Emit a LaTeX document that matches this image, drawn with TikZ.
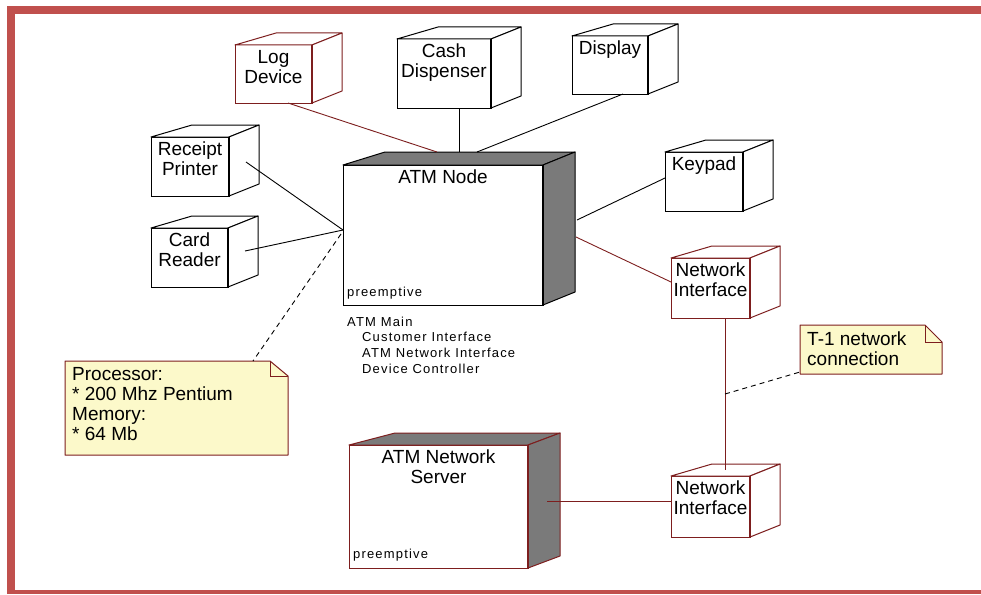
\documentclass[tikz,border=0pt]{standalone}
\usepackage{fontspec}
\setmainfont{Liberation Sans}
\newfontfamily\smallfam[LetterSpace=9]{Liberation Sans}
\usetikzlibrary{calc}
\definecolor{framered}{RGB}{192,80,77}
\definecolor{dred}{RGB}{125,30,30}
\definecolor{facegray}{RGB}{122,122,122}
\definecolor{notefill}{RGB}{252,249,202}
\newcommand\biglab{\fontsize{19}{20}\selectfont}
\newcommand\smalllab{\smallfam\fontsize{13}{16}\selectfont}
\def\dL{41}\def\dR{30}\def\dY{12}
% name, x, y, w, h, line colour, face fill, label
\newcommand\devbox[8]{%
  \node[frontface, draw=#6, minimum width=#4pt, minimum height=#5pt, anchor=north west] (#1) at (#2,#3) {};
  \filldraw[draw=#6, fill=#7, line width=1pt, line join=round]
    (#1.north west) -- ++(\dL,-\dY) -- ([shift={(\dR,-\dY)}]#1.north east) -- (#1.north east) -- cycle;
  \filldraw[draw=#6, fill=#7, line width=1pt, line join=round]
    (#1.north east) -- ([shift={(\dR,-\dY)}]#1.north east) -- ([shift={(\dR,-\dY)}]#1.south east) -- (#1.south east) -- cycle;
  \draw[draw=#6, line width=2pt] (#1.north east) -- (#1.south east);
  \node[boxlabel, anchor=north] (#1-lab) at ([yshift=-5pt]#1.north) {#8};
}
\begin{document}
\begin{tikzpicture}[x=1pt,y=-1pt,
  frontface/.style={draw, fill=white, line width=1pt, inner sep=0pt, outer sep=0pt},
  boxlabel/.style={font=\biglab, align=center, inner sep=0pt},
  smalltext/.style={font=\smalllab, inner sep=0pt, anchor=base west},
  conn/.style={line width=0.9pt, draw=black},
  redconn/.style={line width=0.9pt, draw=dred},
  noteconn/.style={line width=0.9pt, draw=black, dash pattern=on 5pt off 4pt},
  noteshape/.style={draw=dred, fill=notefill, line width=1pt, line join=round},
  notearea/.style={inner sep=0pt, outer sep=0pt, anchor=north west},
  notetext/.style={font=\biglab, align=left, inner sep=0pt, anchor=north west}]
\useasboundingbox (0,0) rectangle (981,594);
\fill[white] (0,0) rectangle (981,594);
% frame
\fill[framered] (7,6) rectangle (981,14);
\fill[framered] (7,6) rectangle (15,594);
\fill[framered] (7,590) rectangle (981,594);

% devices
\devbox{ld}{235}{45}{77}{58}{dred}{white}{Log\\Device}
\devbox{cd}{397}{39}{94}{69}{black}{white}{Cash\\Dispenser}
\devbox{dp}{572}{36}{76}{58}{black}{white}{Display}
\devbox{rp}{151}{137}{78}{59}{black}{white}{Receipt\\Printer}
\devbox{cr}{151}{228}{77}{59}{black}{white}{Card\\Reader}
\devbox{kp}{665}{152}{78}{59}{black}{white}{Keypad}
\devbox{nia}{671}{258}{79}{60}{dred}{white}{Network\\Interface}
\devbox{nib}{671}{476}{79}{61}{dred}{white}{Network\\Interface}
\def\dL{42}\def\dR{32}\def\dY{13}
\devbox{atm}{343}{165}{200}{140}{black}{facegray}{ATM Node}
\def\dL{46}\def\dR{32}\def\dY{12}
\devbox{srv}{349}{445}{179}{123}{dred}{facegray}{ATM Network\\Server}

\node[smalltext] (atmpre) at (347,296) {preemptive};
\node[smalltext] (srvpre) at (353,558) {preemptive};
\node[smalltext] (m1) at (347,326) {ATM Main};
\node[smalltext] (m2) at (362,341) {Customer Interface};
\node[smalltext] (m3) at (362,357) {ATM Network Interface};
\node[smalltext] (m4) at (362,373) {Device Controller};

% notes
\node[notearea, minimum width=223pt, minimum height=94pt] (pn) at (65,361) {};
\draw[noteshape] (pn.north west) -- ([xshift=-18pt]pn.north east) -- ([yshift=-15pt]pn.north east) -- (pn.south east) -- (pn.south west) -- cycle;
\draw[draw=dred, line width=1pt] ([xshift=-18pt]pn.north east) -- ([xshift=-18pt,yshift=-15pt]pn.north east) -- ([yshift=-15pt]pn.north east);
\node[notetext] (pntext) at (72,367) {Processor:\\* 200 Mhz Pentium\\Memory:\\* 64 Mb};

\node[notearea, minimum width=142pt, minimum height=49pt] (tn) at (800,325) {};
\draw[noteshape] (tn.north west) -- ([xshift=-17pt]tn.north east) -- ([yshift=-17pt]tn.north east) -- (tn.south east) -- (tn.south west) -- cycle;
\draw[draw=dred, line width=1pt] ([xshift=-17pt]tn.north east) -- ([xshift=-17pt,yshift=-17pt]tn.north east) -- ([yshift=-17pt]tn.north east);
\node[notetext] (tntext) at (807,332) {T-1 network\\connection};

% connector end points
\coordinate (ldA) at (288,103);
\coordinate (atmT1) at (437,152);
\coordinate (cdA) at (459,108);
\coordinate (atmT2) at (459,152);
\coordinate (dpA) at (623,94);
\coordinate (atmT3) at (477,152);
\coordinate (rpA) at (246,162);
\coordinate (crA) at (245,251);
\coordinate (atmW) at (343,230);
\coordinate (atmWd) at (341,234);
\coordinate (pnA) at (253,361);
\coordinate (atmE1) at (577,220);
\coordinate (kpA) at (665,178);
\coordinate (atmE2) at (576,237);
\coordinate (niaA) at (671,282);
\coordinate (niaB) at (725,318);
\coordinate (nibA) at (725,470);
\coordinate (linkM) at (725,394);
\coordinate (tnA) at (800,372);
\coordinate (srvE) at (547,501);
\coordinate (nibW) at (671,501);

% connectors
\draw[redconn] (ldA) -- (atmT1);
\draw[conn] (cdA) -- (atmT2);
\draw[conn] (dpA) -- (atmT3);
\draw[conn] (rpA) -- (atmW);
\draw[conn] (crA) -- (atmW);
\draw[noteconn] (atmWd) -- (pnA);
\draw[conn] (atmE1) -- (kpA);
\draw[redconn] (atmE2) -- (niaA);
\draw[redconn] (niaB) -- (nibA);
\draw[noteconn] (linkM) -- (tnA);
\draw[redconn] (srvE) -- (nibW);
\end{tikzpicture}
\end{document}
